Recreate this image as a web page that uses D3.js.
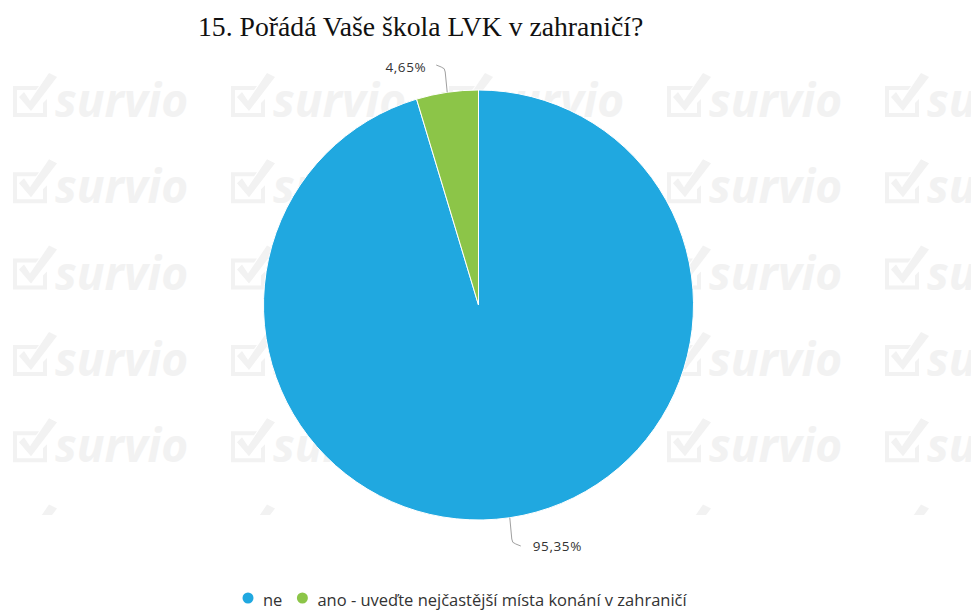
<!DOCTYPE html>
<html>
<head>
<meta charset="utf-8">
<script src="https://cdn.jsdelivr.net/npm/d3@7/dist/d3.min.js"></script>
<style>
html,body{margin:0;padding:0;background:#fff;}
svg{display:block;}
</style>
</head>
<body>
<svg id="chart" width="971" height="610"></svg>
<script>
const title = "15. Pořádá Vaše škola LVK v zahraničí?";
const categories = ["ne", "ano - uveďte nejčastější místa konání v zahraničí"];
const values = [95.35, 4.65];
const valueLabels = ["95,35%", "4,65%"];
const colors = ["#20a8e0", "#8cc548"];

const W = 971, H = 610;
const svg = d3.select("#chart");

// watermark layer
const wm = svg.append("g").attr("fill", "#f2f2f2");
svg.append("defs").append("clipPath").attr("id","wmclip")
  .append("rect").attr("x",0).attr("y",60).attr("width",W).attr("height",455);
wm.attr("clip-path","url(#wmclip)");
const cols = d3.range(5).map(i => 13 + i*218);
const rows = d3.range(6).map(i => 117 + i*86.3);
rows.forEach((by, ri) => cols.forEach(bx => {
  const g = wm.append("g").attr("transform", `translate(${bx},${by})`);
  g.append("path")
    .attr("d", "M0,-31 L26,-31 L23,-27 L4,-27 L4,-4 L30,-4 L30,-14 L34,-18 L34,0 L0,0 Z");
  g.append("path")
    .attr("d", "M6,-20 L11,-25 L17,-16 L36,-44 L44,-40 L18,-6 Z");
  if (ri < 5) {
    g.append("text").attr("x", 42).attr("y", 0)
      .attr("font-family", "Open Sans, sans-serif")
      .attr("font-weight", 700).attr("font-style", "italic")
      .attr("font-size", 46).text("survio");
  }
}));

// title
svg.append("text")
  .attr("x", 198).attr("y", 36)
  .attr("font-family", "Liberation Serif, Times New Roman, serif")
  .attr("font-size", 27.7)
  .attr("fill", "#111")
  .text(title);

// pie
const cx = 478.5, cy = 305, R = 215;
const data = categories.map((c, i) => ({cat: c, value: values[i], label: valueLabels[i], color: colors[i]}));
const pie = d3.pie().value(d => d.value).sort(null);
const arc = d3.arc().innerRadius(0).outerRadius(R);
const arcs = pie(data);
const g = svg.append("g").attr("transform", `translate(${cx},${cy})`);
g.selectAll("path.slice").data(arcs).join("path")
  .attr("class", "slice")
  .attr("d", arc)
  .attr("fill", d => d.data.color)
  .attr("stroke", "#fff").attr("stroke-width", 1);

// labels with leader lines
const labelFont = "Open Sans, sans-serif";
arcs.forEach(a => {
  const mid = (a.startAngle + a.endAngle) / 2;
  const sx = Math.sin(mid) * R, sy = -Math.cos(mid) * R;
  const up = sy < 0;
  const ex = sx + (up ? -2 : 2);
  const ey = up ? -237 : 238;
  const hx = ex + (up ? -9 : 9);
  const hy = ey + (up ? -3 : 3);
  g.append("path")
    .attr("d", `M${sx},${sy} L${ex},${ey + (up ? 4 : -4)} Q${ex},${ey} ${ex + (up ? -4 : 4)},${ey + (up ? -1 : 1)} L${hx},${hy}`)
    .attr("fill", "none").attr("stroke", "#a0a0a0").attr("stroke-width", 1);
  g.append("text")
    .attr("x", up ? hx - 10 : hx + 12)
    .attr("y", up ? hy + 2 : hy)
    .attr("dy", "0.35em")
    .attr("text-anchor", up ? "end" : "start")
    .attr("font-family", labelFont)
    .attr("font-size", 13.5)
    .attr("letter-spacing", 0.6)
    .attr("fill", "#333")
    .text(a.data.label);
});

// legend
const lg = svg.append("g").attr("transform", "translate(248,606)");
let x = 0;
data.forEach((d, i) => {
  const item = lg.append("g").attr("transform", `translate(${x},0)`);
  item.append("circle").attr("cx", 0).attr("cy", -8).attr("r", 5.5).attr("fill", d.color);
  const t = item.append("text").attr("x", 15).attr("y", 0)
    .attr("font-family", labelFont).attr("font-size", 16.5).attr("fill", "#333")
    .text(d.cat);
  x += 15 + t.node().getComputedTextLength() + 20;
});
</script>
</body>
</html>
